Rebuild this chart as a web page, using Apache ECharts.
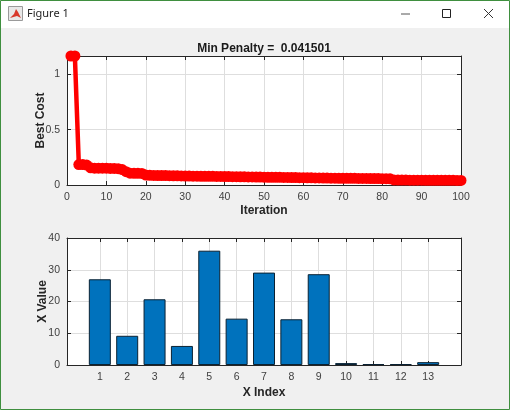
<!DOCTYPE html>
<html>
<head>
<meta charset="utf-8">
<style>html,body{margin:0;padding:0;background:#f0f0f0}#chart{width:510px;height:410px}</style>
<script src="https://cdn.jsdelivr.net/npm/echarts@6/dist/echarts.min.js"></script>
</head>
<body>
<div id="chart"></div>
<script>
// Optimiser convergence history, one value per iteration
const bestCost = [
  1.1665, 1.1665, 0.185, 0.185, 0.18, 0.155, 0.152, 0.152, 0.152, 0.152,
  0.15, 0.15, 0.148, 0.14, 0.12, 0.107, 0.106, 0.106, 0.105, 0.09,
  0.088, 0.087, 0.086, 0.085, 0.085, 0.084, 0.083, 0.083, 0.082, 0.081,
  0.081, 0.08, 0.08, 0.079, 0.079, 0.078, 0.078, 0.077, 0.077, 0.076,
  0.076, 0.075, 0.075, 0.074, 0.074, 0.073, 0.073, 0.072, 0.072, 0.071,
  0.07, 0.07, 0.069, 0.069, 0.068, 0.068, 0.067, 0.067, 0.066, 0.066,
  0.065, 0.065, 0.064, 0.064, 0.063, 0.063, 0.062, 0.062, 0.061, 0.061,
  0.06, 0.06, 0.06, 0.059, 0.059, 0.059, 0.058, 0.058, 0.058, 0.057,
  0.057, 0.056, 0.046, 0.045, 0.045, 0.045, 0.044, 0.044, 0.044, 0.044,
  0.043, 0.043, 0.043, 0.043, 0.042, 0.042, 0.042, 0.042, 0.0415, 0.041501
];
// Best solution vector
const xIndex = [1, 2, 3, 4, 5, 6, 7, 8, 9, 10, 11, 12, 13];
const xValue = [27, 9.2, 20.7, 6, 36, 14.6, 29.1, 14.4, 28.6, 0.6, 0.3, 0.3, 0.9];
// Tick labels
const iterationTicks = [0, 10, 20, 30, 40, 50, 60, 70, 80, 90, 100];
const costTicks = [0, 0.5, 1];
const valueTicks = [0, 10, 20, 30, 40];
const titleText = 'Min Penalty =  0.041501';

const FONT = '"Liberation Sans", Arial, sans-serif';
const AX = '#262626', GRID = '#dedede', LABEL = '#404040';

const axisLine = { show: true, onZero: false, lineStyle: { color: AX, width: 1 } };
const tick = vals => ({ show: true, inside: true, length: 4, customValues: vals, lineStyle: { color: AX, width: 1 } });
const label = (vals, padding) => ({ show: true, customValues: vals, color: LABEL, fontFamily: FONT, fontSize: 10.5, margin: 7, padding: padding || 0 });
const nameStyle = { color: '#262626', fontFamily: FONT, fontSize: 12, fontWeight: 'bold' };
const split = { show: true, lineStyle: { color: GRID, width: 1 } };

function mirror(pos, min, max, vals, grid) {
  return {
    type: 'value', gridIndex: grid, position: pos, min, max, silent: true,
    axisLine, axisTick: tick(vals), axisLabel: { show: false }, splitLine: { show: false }
  };
}

const chart = echarts.init(document.getElementById('chart'), null, { renderer: 'canvas' });
chart.setOption({
  animation: false,
  backgroundColor: '#f0f0f0',
  title: {
    text: titleText, left: 259, top: 38, textAlign: 'center',
    textStyle: { color: '#1a1a1a', fontFamily: FONT, fontSize: 12, fontWeight: 'bold' }
  },
  grid: [
    { left: 67, top: 56, width: 394, height: 129, backgroundColor: '#fff', show: true, borderWidth: 0 },
    { left: 67, top: 238, width: 394, height: 127, backgroundColor: '#fff', show: true, borderWidth: 0 }
  ],
  xAxis: [
    { type: 'value', gridIndex: 0, min: 0, max: 100, position: 'bottom',
      name: 'Iteration', nameLocation: 'middle', nameGap: 20, nameMoveOverlap: false, nameTextStyle: nameStyle,
      axisLine, axisTick: tick(iterationTicks), axisLabel: label(iterationTicks), splitLine: split },
    { type: 'value', gridIndex: 1, min: -0.2, max: 14.2, position: 'bottom',
      name: 'X Index', nameLocation: 'middle', nameGap: 22, nameMoveOverlap: false, nameTextStyle: nameStyle,
      axisLine, axisTick: tick(xIndex), axisLabel: label(xIndex), splitLine: split },
    mirror('top', 0, 100, iterationTicks, 0),
    mirror('top', -0.2, 14.2, xIndex, 1)
  ],
  yAxis: [
    { type: 'value', gridIndex: 0, min: 0, max: 1.1665, position: 'left',
      name: 'Best Cost', nameLocation: 'middle', nameGap: 20, nameMoveOverlap: false, nameTextStyle: nameStyle,
      axisLine, axisTick: tick(costTicks), axisLabel: label(costTicks, [2, 0, 0, 0]), splitLine: split },
    { type: 'value', gridIndex: 1, min: 0, max: 40, position: 'left',
      name: 'X Value', nameLocation: 'middle', nameGap: 18, nameMoveOverlap: false, nameTextStyle: nameStyle,
      axisLine, axisTick: tick(valueTicks), axisLabel: label(valueTicks, [2, 0, 0, 0]), splitLine: split },
    mirror('right', 0, 1.1665, costTicks, 0),
    mirror('right', 0, 40, valueTicks, 1)
  ],
  series: [
    { type: 'line', xAxisIndex: 0, yAxisIndex: 0, clip: false, z: 5,
      data: bestCost.map((c, i) => [i + 1, c]),
      symbol: 'circle', symbolSize: 11, showAllSymbols: true, showSymbol: true,
      lineStyle: { color: '#ff0000', width: 4.5 }, itemStyle: { color: '#ff0000' } },
    { type: 'bar', xAxisIndex: 1, yAxisIndex: 1, barWidth: 22, z: 5,
      data: xIndex.map((x, i) => [x, xValue[i]]),
      itemStyle: { color: '#0072bd', borderColor: '#0a2233', borderWidth: 1 } }
  ],
  graphic: [
    // Window frame and title bar
    { type: 'rect', shape: { x: 0, y: 0, width: 510, height: 28 }, style: { fill: '#ffffff' }, silent: true, z: 100 },
    { type: 'rect', shape: { x: 0.5, y: 0.5, width: 509, height: 409 }, style: { fill: 'none', stroke: '#3f8f3f', lineWidth: 1 }, silent: true, z: 101 },
    // Application icon
    { type: 'rect', shape: { x: 8.5, y: 6.5, width: 14, height: 14 }, style: { fill: '#e8e8e8', stroke: '#9a9a9a', lineWidth: 1 }, silent: true, z: 101 },
    { type: 'polygon', shape: { points: [[10, 18], [14, 14], [16, 9], [18, 12], [21, 18], [17, 16]] }, style: { fill: '#d8392b' }, silent: true, z: 102 },
    { type: 'text', style: { text: 'Figure 1', x: 27, y: 14, verticalAlign: 'middle', fill: '#222', font: '11px "Noto Sans", sans-serif' }, silent: true, z: 101 },
    // Minimise, maximise and close controls
    { type: 'line', shape: { x1: 401, y1: 14, x2: 410, y2: 14 }, style: { stroke: '#555', lineWidth: 1 }, silent: true, z: 101 },
    { type: 'rect', shape: { x: 442.5, y: 9.5, width: 8, height: 8 }, style: { fill: 'none', stroke: '#222', lineWidth: 1 }, silent: true, z: 101 },
    { type: 'line', shape: { x1: 484, y1: 9, x2: 493, y2: 18 }, style: { stroke: '#333', lineWidth: 1 }, silent: true, z: 101 },
    { type: 'line', shape: { x1: 493, y1: 9, x2: 484, y2: 18 }, style: { stroke: '#333', lineWidth: 1 }, silent: true, z: 101 }
  ]
});
</script>
</body>
</html>
